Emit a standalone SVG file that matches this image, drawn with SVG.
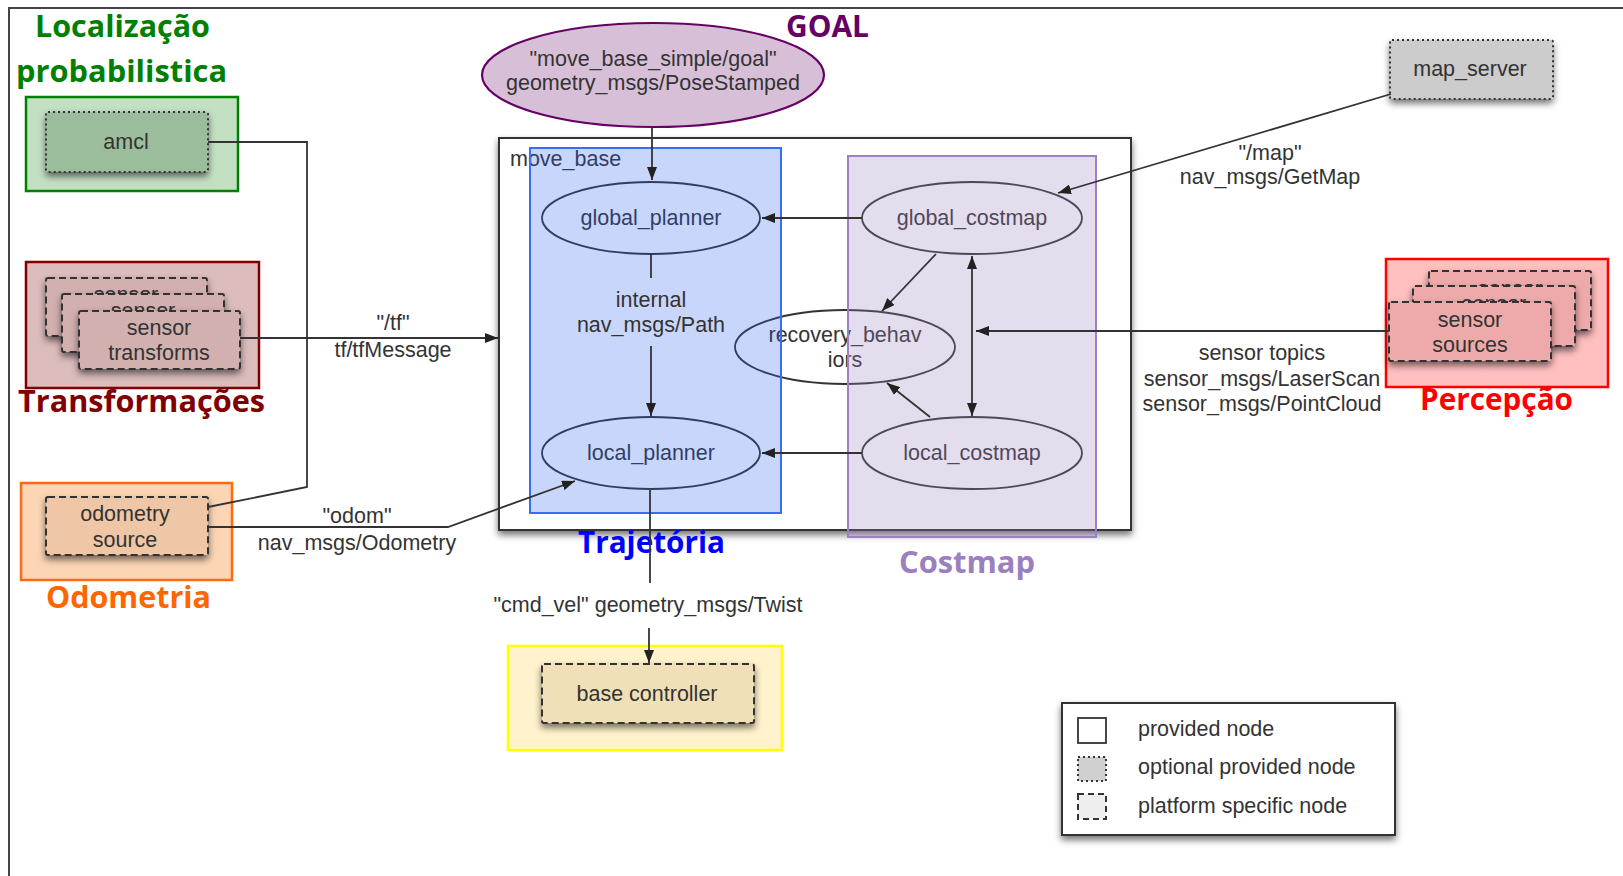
<svg xmlns="http://www.w3.org/2000/svg" width="1623" height="876" viewBox="0 0 1623 876">
<style>
.t{font-family:"Liberation Sans",Arial,sans-serif;font-size:21.5px;fill:#333;text-anchor:middle}
.tl{font-family:"Liberation Sans",Arial,sans-serif;font-size:21.5px;fill:#333}
.h{font-family:"Open Sans","DejaVu Sans",sans-serif;font-weight:bold;font-size:31px}
.ln{fill:none;stroke:#333;stroke-width:1.8}
.el{fill:none;stroke:#333;stroke-width:1.8}
.dot{stroke:#333;stroke-width:2;stroke-dasharray:2,3}
.dash{stroke:#333;stroke-width:2;stroke-dasharray:7,4}
</style>
<defs>
<marker id="ar" markerUnits="userSpaceOnUse" markerWidth="13" markerHeight="10" refX="13" refY="5" orient="auto-start-reverse">
<path d="M0,0 L13,5 L0,10 z" fill="#222"/>
</marker>
<filter id="sh" x="-20%" y="-20%" width="140%" height="150%">
<feDropShadow dx="0" dy="4" stdDeviation="3.5" flood-color="#000" flood-opacity="0.55"/>
</filter>
</defs>
<rect width="1623" height="876" fill="#fff"/>
<path d="M9,876 L9,8 L1623,8" fill="none" stroke="#444" stroke-width="2"/>

<g id="move_base">
<rect x="499" y="138" width="632" height="392" fill="#fff" stroke="#333" stroke-width="2" filter="url(#sh)"/>
<text class="tl" x="510" y="166">move_base</text>
</g>

<g id="global_planner"><ellipse class="el" cx="651" cy="218" rx="109" ry="36"/><text class="t" x="651" y="225">global_planner</text></g>
<g id="local_planner"><ellipse class="el" cx="651" cy="453" rx="109" ry="36"/><text class="t" x="651" y="460">local_planner</text></g>
<g id="global_costmap"><ellipse class="el" cx="972" cy="218" rx="110" ry="36"/><text class="t" x="972" y="225">global_costmap</text></g>
<g id="local_costmap"><ellipse class="el" cx="972" cy="453" rx="110" ry="36"/><text class="t" x="972" y="460">local_costmap</text></g>
<g id="recovery_behaviors"><ellipse class="el" cx="845" cy="347" rx="110" ry="37"/><text class="t" x="845" y="342">recovery_behav</text><text class="t" x="845" y="367">iors</text></g>

<g id="trajetoria_group">
<rect x="530" y="148" width="251" height="365" fill="#2f62f0" fill-opacity="0.26" stroke="#3a6cf5" stroke-width="2"/>
<text class="h" x="578" y="553" fill="#0000ff" textLength="147" lengthAdjust="spacingAndGlyphs">Trajetória</text>
</g>
<g id="costmap_group">
<rect x="848" y="156" width="248" height="381" fill="#9b82c0" fill-opacity="0.27" stroke="#9b82c0" stroke-width="2"/>
<text class="h" x="899" y="573" fill="#9a80be" textLength="136" lengthAdjust="spacingAndGlyphs">Costmap</text>
</g>

<g id="goal">
<ellipse cx="653" cy="75" rx="171" ry="52" fill="#d8bfd8" stroke="#660066" stroke-width="2.2"/>
<text class="t" x="653" y="66">"move_base_simple/goal"</text>
<text class="t" x="653" y="90">geometry_msgs/PoseStamped</text>
<text class="h" x="786" y="37" fill="#660066" textLength="83" lengthAdjust="spacingAndGlyphs">GOAL</text>
</g>

<g id="amcl">
<rect x="26" y="97" width="212" height="94" fill="#c3e0c3" stroke="#008000" stroke-width="2.5"/>
<rect class="dot" x="46" y="112" width="162" height="60" rx="2" fill="#9cbd9c" filter="url(#sh)"/>
<text class="t" x="126" y="149">amcl</text>
<text class="h" x="35" y="37" fill="#008000" textLength="175" lengthAdjust="spacingAndGlyphs">Localização</text>
<text class="h" x="16" y="82" fill="#008000" textLength="211" lengthAdjust="spacingAndGlyphs">probabilistica</text>
</g>

<g id="sensor_transforms">
<rect x="26" y="262" width="233" height="126" fill="#dcbcbc" stroke="#800000" stroke-width="2.5"/>
<rect class="dash" x="46" y="278" width="161" height="58" rx="2" fill="#d2b0b0" filter="url(#sh)"/>
<text class="t" x="126" y="302">sensor</text>
<rect class="dash" x="62" y="294" width="162" height="58" rx="2" fill="#d2b0b0" filter="url(#sh)"/>
<text class="t" x="143" y="318">sensor</text>
<rect class="dash" x="79" y="311" width="161" height="58" rx="2" fill="#d2b0b0" filter="url(#sh)"/>
<text class="t" x="159" y="335">sensor</text>
<text class="t" x="159" y="360">transforms</text>
<text class="h" x="18" y="412" fill="#800000" textLength="247" lengthAdjust="spacingAndGlyphs">Transformações</text>
</g>

<g id="odometry_source">
<rect x="21" y="483" width="211" height="97" fill="#fcd5b5" stroke="#ff6a10" stroke-width="2.5"/>
<rect class="dash" x="46" y="497" width="162" height="58" rx="2" fill="#efc6a6" filter="url(#sh)"/>
<text class="t" x="125" y="521">odometry</text>
<text class="t" x="125" y="547">source</text>
<text class="h" x="46" y="608" fill="#ff6600" textLength="165" lengthAdjust="spacingAndGlyphs">Odometria</text>
</g>

<g id="map_server">
<rect class="dot" x="1390" y="40" width="163" height="59" rx="2" fill="#cccccc" filter="url(#sh)"/>
<text class="t" x="1470" y="76">map_server</text>
</g>

<g id="sensor_sources">
<rect x="1386" y="259" width="222" height="128" fill="#ffbfbf" stroke="#ff0000" stroke-width="2.5"/>
<rect class="dash" x="1429" y="271" width="162" height="59" rx="2" fill="#eeaaaa" filter="url(#sh)"/>
<text class="t" x="1510" y="296">sensor</text>
<rect class="dash" x="1413" y="286" width="162" height="60" rx="2" fill="#eeaaaa" filter="url(#sh)"/>
<text class="t" x="1494" y="311">sensor</text>
<rect class="dash" x="1389" y="302" width="162" height="59" rx="2" fill="#eeaaaa" filter="url(#sh)"/>
<text class="t" x="1470" y="327">sensor</text>
<text class="t" x="1470" y="352">sources</text>
<text class="h" x="1420" y="410" fill="#ff0000" textLength="153" lengthAdjust="spacingAndGlyphs">Percepção</text>
</g>

<g id="base_controller">
<rect x="508" y="646" width="274" height="104" fill="#fff2cc" stroke="#ffff00" stroke-width="2.5"/>
<rect class="dash" x="542" y="664" width="212" height="59" rx="2" fill="#f0e0b8" filter="url(#sh)"/>
<text class="t" x="647" y="701">base controller</text>
</g>

<g id="legend">
<rect x="1062" y="703" width="333" height="132" fill="#fff" stroke="#333" stroke-width="2" filter="url(#sh)"/>
<rect x="1078" y="718" width="28" height="25" fill="#fff" stroke="#333" stroke-width="1.8"/>
<rect class="dot" x="1078" y="757" width="28" height="24" fill="#d0d0d0"/>
<rect class="dash" x="1078" y="794" width="28" height="25" fill="#eeeeee" style="stroke-dasharray:6,4"/>
<text class="tl" x="1138" y="736">provided node</text>
<text class="tl" x="1138" y="774">optional provided node</text>
<text class="tl" x="1138" y="813">platform specific node</text>
</g>

<g id="connectors">
<path class="ln" d="M652,127 L652,180" marker-end="url(#ar)"/>
<path class="ln" d="M862,218 L762,218" marker-end="url(#ar)"/>
<path class="ln" d="M862,453 L762,453" marker-end="url(#ar)"/>
<path class="ln" d="M651,254 L651,278"/>
<path class="ln" d="M651,346 L651,416" marker-end="url(#ar)"/>
<path class="ln" d="M936,254 L882,311" marker-end="url(#ar)"/>
<path class="ln" d="M930,417 L887,383" marker-end="url(#ar)"/>
<path class="ln" d="M972,256 L972,416" marker-start="url(#ar)" marker-end="url(#ar)"/>
<path class="ln" d="M1389,331 L976,331" marker-end="url(#ar)"/>
<path class="ln" d="M1391,94 L1058,193" marker-end="url(#ar)"/>
<path class="ln" d="M240,338 L498,338" marker-end="url(#ar)"/>
<path class="ln" d="M208,142 L307,142 L307,487 L208,507"/>
<path class="ln" d="M208,527 L448,527 L575,481" marker-end="url(#ar)"/>
<path class="ln" d="M650,490 L650,583"/>
<path class="ln" d="M649,628 L649,663" marker-end="url(#ar)"/>
<text class="t" x="393" y="330">"/tf"</text>
<text class="t" x="393" y="357">tf/tfMessage</text>
<text class="t" x="357" y="523">"odom"</text>
<text class="t" x="357" y="550">nav_msgs/Odometry</text>
<text class="t" x="651" y="307">internal</text>
<text class="t" x="651" y="332">nav_msgs/Path</text>
<text class="t" x="1270" y="160">"/map"</text>
<text class="t" x="1270" y="184">nav_msgs/GetMap</text>
<text class="t" x="1262" y="360">sensor topics</text>
<text class="t" x="1262" y="386">sensor_msgs/LaserScan</text>
<text class="t" x="1262" y="411">sensor_msgs/PointCloud</text>
<text class="t" x="648" y="612">"cmd_vel" geometry_msgs/Twist</text>
</g>
</svg>
